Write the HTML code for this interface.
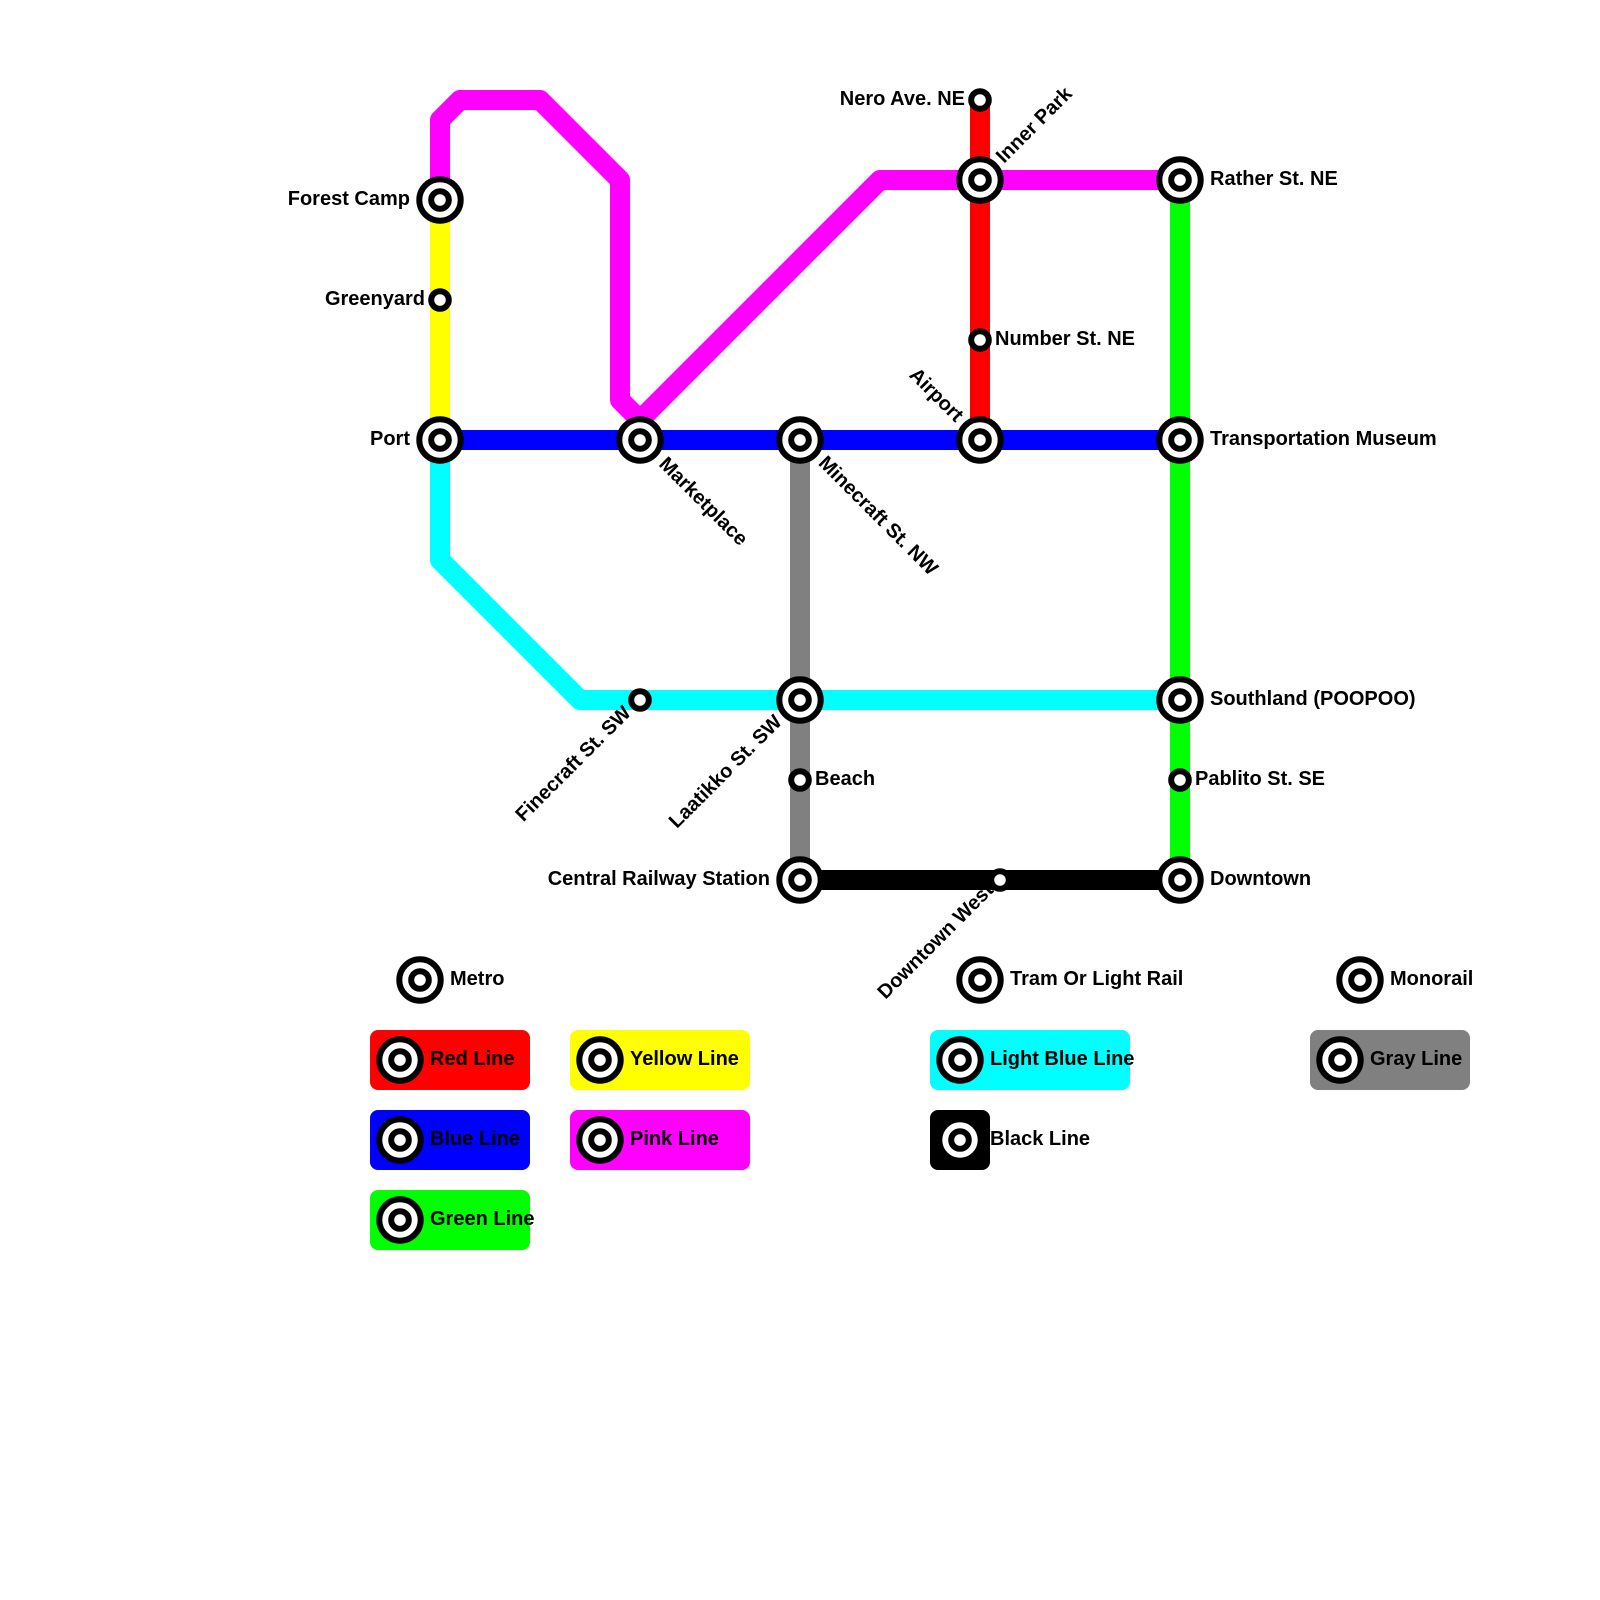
<!DOCTYPE html>
<html>
<head>
<meta charset="utf-8">
<style>
html,body{margin:0;padding:0;background:#fff;}
svg{display:block;}
text{font-family:"Liberation Sans",sans-serif;font-weight:bold;font-size:20px;fill:#000;}
.l{fill:none;stroke-width:20;stroke-linejoin:round;stroke-linecap:butt;}
.o{fill:#fff;stroke:#000;stroke-width:6;}
.e{text-anchor:end;}
</style>
</head>
<body>
<svg width="1600" height="1600" viewBox="0 0 1600 1600" xmlns="http://www.w3.org/2000/svg">
<defs>
<g id="b"><circle r="20.7" class="o"/><circle r="8.8" class="o"/></g>
<g id="s"><circle r="8.8" class="o"/></g>
</defs>
<rect width="1600" height="1600" fill="#fff"/>

<path class="l" stroke="#f00" d="M980 100V440"/>
<path class="l" stroke="#ff0" d="M440 200V440"/>
<path class="l" stroke="#808080" d="M800 440V880"/>
<path class="l" stroke="#0f0" d="M1180 180V880"/>
<path class="l" stroke="#f0f" d="M440 200V120L460 100H540L620 180V400L640 420L880 180H1180"/>
<path class="l" stroke="#00f" d="M440 440H1180"/>
<path class="l" stroke="#0ff" d="M440 440V560L580 700H1180"/>
<path class="l" stroke="#000" d="M800 880H1180"/>

<use href="#s" x="980" y="100"/>
<use href="#b" x="980" y="180"/>
<use href="#b" x="1180" y="180"/>
<use href="#b" x="440" y="200"/>
<use href="#s" x="440" y="300"/>
<use href="#s" x="980" y="340"/>
<use href="#b" x="440" y="440"/>
<use href="#b" x="640" y="440"/>
<use href="#b" x="800" y="440"/>
<use href="#b" x="980" y="440"/>
<use href="#b" x="1180" y="440"/>
<use href="#s" x="640" y="700"/>
<use href="#b" x="800" y="700"/>
<use href="#b" x="1180" y="700"/>
<use href="#s" x="800" y="780"/>
<use href="#s" x="1180" y="780"/>
<use href="#b" x="800" y="880"/>
<use href="#s" x="1000" y="880"/>
<use href="#b" x="1180" y="880"/>

<text class="e" x="965" y="105">Nero Ave. NE</text>
<text transform="translate(1004,164) rotate(-45)">Inner Park</text>
<text x="1210" y="185">Rather St. NE</text>
<text class="e" x="410" y="205">Forest Camp</text>
<text class="e" x="425" y="305">Greenyard</text>
<text x="995" y="345">Number St. NE</text>
<text class="e" transform="translate(955.5,423) rotate(45)">Airport</text>
<text class="e" x="410" y="445">Port</text>
<text transform="translate(658,465) rotate(45)">Marketplace</text>
<text transform="translate(817.5,464) rotate(45)">Minecraft St. NW</text>
<text x="1210" y="445">Transportation Museum</text>
<text class="e" transform="translate(632,714) rotate(-45)">Finecraft St. SW</text>
<text class="e" transform="translate(783,723) rotate(-45)">Laatikko St. SW</text>
<text x="1210" y="705">Southland (POOPOO)</text>
<text x="815" y="785">Beach</text>
<text x="1195" y="785">Pablito St. SE</text>
<text class="e" x="770" y="885">Central Railway Station</text>
<text class="e" transform="translate(994.5,891) rotate(-45)">Downtown West</text>
<text x="1210" y="885">Downtown</text>

<use href="#b" x="420" y="980"/><text x="450" y="985">Metro</text>
<use href="#b" x="980" y="980"/><text x="1010" y="985">Tram Or Light Rail</text>
<use href="#b" x="1360" y="980"/><text x="1390" y="985">Monorail</text>

<rect x="370" y="1030" width="160" height="60" rx="8" fill="#f00"/><use href="#b" x="400" y="1060"/><text x="430" y="1065">Red Line</text>
<rect x="370" y="1110" width="160" height="60" rx="8" fill="#00f"/><use href="#b" x="400" y="1140"/><text x="430" y="1145">Blue Line</text>
<rect x="370" y="1190" width="160" height="60" rx="8" fill="#0f0"/><use href="#b" x="400" y="1220"/><text x="430" y="1225">Green Line</text>
<rect x="570" y="1030" width="180" height="60" rx="8" fill="#ff0"/><use href="#b" x="600" y="1060"/><text x="630" y="1065">Yellow Line</text>
<rect x="570" y="1110" width="180" height="60" rx="8" fill="#f0f"/><use href="#b" x="600" y="1140"/><text x="630" y="1145">Pink Line</text>
<rect x="930" y="1030" width="200" height="60" rx="8" fill="#0ff"/><use href="#b" x="960" y="1060"/><text x="990" y="1065">Light Blue Line</text>
<rect x="930" y="1110" width="60" height="60" rx="8" fill="#000"/><use href="#b" x="960" y="1140"/><text x="990" y="1145">Black Line</text>
<rect x="1310" y="1030" width="160" height="60" rx="8" fill="#808080"/><use href="#b" x="1340" y="1060"/><text x="1370" y="1065">Gray Line</text>
</svg>
</body>
</html>
